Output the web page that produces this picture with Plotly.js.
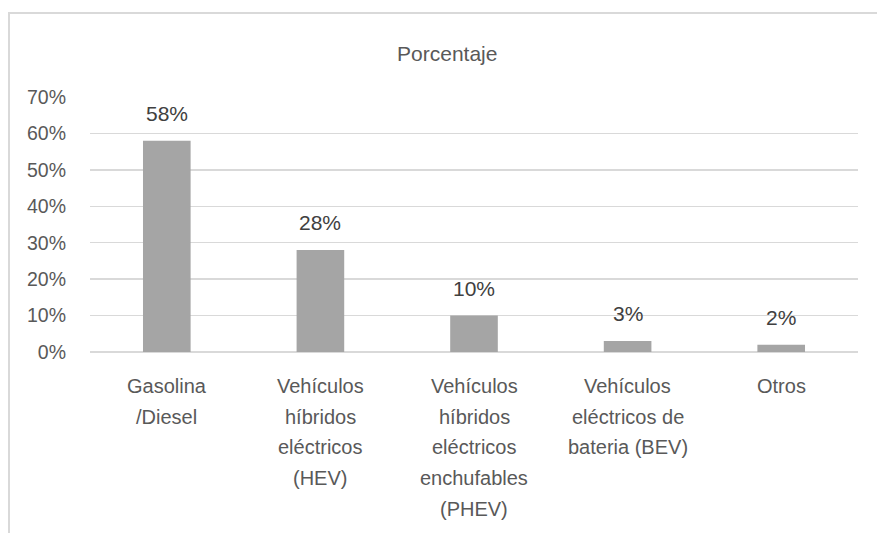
<!DOCTYPE html>
<html>
<head>
<meta charset="utf-8">
<script src="https://cdn.plot.ly/plotly-3.0.1.min.js"></script>
<style>
html,body{margin:0;padding:0;background:#fff;}
#chart{position:absolute;left:0;top:0;width:877px;height:533px;}
#frame{position:absolute;left:8px;top:12px;width:900px;height:600px;border-left:2px solid #d9d9d9;border-top:2px solid #d9d9d9;pointer-events:none;}
</style>
</head>
<body>
<div id="chart"></div>
<div id="frame"></div>
<script>
var categories = [
  "Gasolina<br>/Diesel",
  "Vehículos<br>híbridos<br>eléctricos<br>(HEV)",
  "Vehículos<br>híbridos<br>eléctricos<br>enchufables<br>(PHEV)",
  "Vehículos<br>eléctricos de<br>bateria (BEV)",
  "Otros"
];
var values = [0.58, 0.28, 0.10, 0.03, 0.02];
var labels = ["58%", "28%", "10%", "3%", "2%"];

var FONT = '"Liberation Sans", Arial, sans-serif';
var LINE_GAP = 30.7;

var trace = {
  type: 'bar',
  x: categories,
  y: values,
  marker: {color: '#a5a5a5'},
  hoverinfo: 'none'
};

var annotations = categories.map(function(c, i){
  return {
    x: c, y: values[i], xref: 'x', yref: 'y',
    text: labels[i], showarrow: false,
    yanchor: 'bottom', yshift: 14,
    font: {family: FONT, size: 21, color: '#404040'}
  };
});

// category labels, one annotation per line for Excel-like line spacing
categories.forEach(function(c){
  c.split('<br>').forEach(function(line, j){
    annotations.push({
      x: c, y: 0, xref: 'x', yref: 'y',
      text: line, showarrow: false,
      yanchor: 'middle', yshift: -(34 + j * LINE_GAP),
      font: {family: FONT, size: 20, color: '#595959'}
    });
  });
});

var layout = {
  width: 877, height: 533,
  margin: {l: 90, r: 19, t: 97, b: 181, pad: 0},
  paper_bgcolor: '#ffffff',
  plot_bgcolor: '#ffffff',
  bargap: 0.69,
  showlegend: false,
  title: {
    text: 'Porcentaje',
    xref: 'container', x: 0.51, xanchor: 'center',
    yref: 'container', y: 0.9, yanchor: 'middle',
    font: {family: FONT, size: 21, color: '#595959'}
  },
  xaxis: {
    type: 'category',
    showgrid: false,
    showline: false,
    ticks: '',
    zeroline: false,
    showticklabels: false
  },
  yaxis: {
    range: [0, 0.7],
    dtick: 0.1,
    tick0: 0,
    tickformat: '.0%',
    showgrid: true,
    gridcolor: '#d9d9d9',
    gridwidth: 1.3,
    zeroline: true,
    zerolinecolor: '#d9d9d9',
    zerolinewidth: 1.3,
    showline: false,
    ticks: '',
    tickfont: {family: FONT, size: 19.5, color: '#595959'},
    ticklabelstandoff: 23
  },
  annotations: annotations
};

Plotly.newPlot('chart', [trace], layout, {displayModeBar: false, staticPlot: true});
</script>
</body>
</html>
